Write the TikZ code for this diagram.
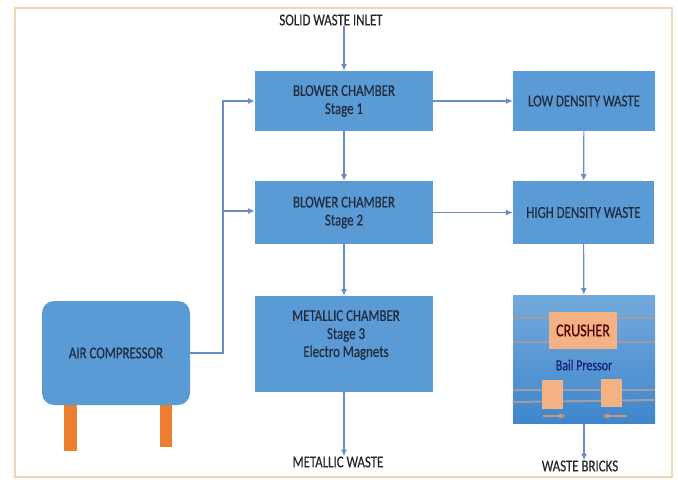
\documentclass[tikz,border=0pt]{standalone}
\usepackage{fontspec}
\setmainfont[FakeStretch=0.78,FakeBold=0.25]{Carlito}
\usetikzlibrary{arrows.meta, positioning, calc}
\definecolor{BoxBlue}{HTML}{5B9BD5}
\definecolor{DeepBlue}{HTML}{3F86CC}
\definecolor{LineBlue}{HTML}{6A8CC4}
\definecolor{FrameTan}{HTML}{F3D5B5}
\definecolor{LegOrange}{HTML}{ED7D31}
\definecolor{Salmon}{HTML}{F4B183}
\definecolor{RailGray}{HTML}{A09CA6}
\definecolor{TextDark}{HTML}{1F2A3C}
\tikzset{
    chamber/.style={fill=BoxBlue, inner sep=0pt, align=center, text=TextDark, font=\fontsize{12.4}{13.5}\selectfont},
    plain/.style={inner sep=0pt, text=black!85, font=\fontsize{12.4}{13.5}\selectfont},
    flow/.style={-{Latex[length=5pt,width=4.5pt]}, LineBlue, line width=0.9pt},
    pad/.style={fill=Salmon, inner sep=0pt},
    rail/.style={RailGray, line width=1.5pt},
    nudge/.style={-{Latex[length=5pt,width=5pt]}, Salmon!85!black, line width=1.1pt}
}
\begin{document}
\begin{tikzpicture}[x=0.75pt, y=-0.75pt]
    \useasboundingbox (0,0) rectangle (678,479);
    \fill[white] (0,0) rectangle (678,479);
    \draw[FrameTan, line width=1.3pt] (15,8) rectangle (672,477);

    % chambers, left column
    \node (stage1) [chamber, minimum width=133.5pt, minimum height=45pt] at (344,101) {BLOWER CHAMBER\\Stage 1};
    \node (stage2) [chamber, minimum width=133.5pt, minimum height=47pt] at (344,212.5) {BLOWER CHAMBER\\Stage 2};
    \node (stage3) [chamber, minimum width=133.5pt, minimum height=72pt] at (344,344) {};
    \node (stage3txt) [inner sep=0pt, align=center, text=TextDark, font=\fontsize{12.4}{13.5}\selectfont] at (346,335) {METALLIC CHAMBER\\Stage 3\\Electro Magnets};

    % right column
    \node (low) [chamber, minimum width=106.5pt, minimum height=45pt] at (584,101) {LOW DENSITY WASTE};
    \node (high) [chamber, minimum width=106pt, minimum height=47pt] at (583.5,212.5) {HIGH DENSITY WASTE};
    \node (bail) [top color=BoxBlue!85!white, bottom color=DeepBlue, inner sep=0pt, minimum width=106.5pt, minimum height=96pt] at (584,359) {};

    % bail pressor details
    \draw[rail] (bail.west |- 0,318) -- (bail.east |- 0,318);
    \draw[rail] (bail.west |- 0,342) -- (bail.east |- 0,342);
    \draw[rail] (bail.west |- 0,390) -- (bail.east |- 0,390);
    \draw[rail] (bail.west |- 0,402) -- (bail.east |- 0,400);
    \node (crusher) [pad, minimum width=51pt, minimum height=28pt, text=black!70!red, font=\fontsize{13.5}{14}\selectfont] at (583,330.5) {CRUSHER};
    \node (bailtxt) [inner sep=0pt, text=TextDark!70!blue, font=\fontsize{11.5}{13}\selectfont] at (584,365) {Bail Pressor};
    \node (padl) [pad, minimum width=15.5pt, minimum height=22pt] at (552.5,394.5) {};
    \node (padr) [pad, minimum width=15.5pt, minimum height=21pt] at (611.5,393) {};
    \coordinate (nudgel) at (543,416);
    \coordinate (nudger) at (627,416);
    \draw[nudge] (nudgel) -- (566,416);
    \draw[nudge] (nudger) -- (602,416);

    % compressor
    \node (legl) [fill=LegOrange, inner sep=0pt, minimum width=9.5pt, minimum height=36pt] at (70.5,427) {};
    \node (legr) [fill=LegOrange, inner sep=0pt, minimum width=9pt, minimum height=33pt] at (166,425) {};
    \node (comp) [chamber, rounded corners=9pt, minimum width=111pt, minimum height=78pt] at (116,353) {AIR COMPRESSOR};

    % end labels
    \node (inlet) [plain] at (331,20) {SOLID WASTE INLET};
    \node (metal) [plain] at (338,462) {METALLIC WASTE};
    \node (bricks) [plain] at (580,466) {WASTE BRICKS};

    % connectors
    \coordinate (junction) at (223,211);
    \draw[flow] (inlet.south -| stage1.north) -- (stage1.north);
    \draw[flow] (comp.east) -| (junction) |- (stage1.west);
    \draw[flow] (junction) -- (junction -| stage2.west);
    \draw[flow] (stage1) -- (low);
    \draw[flow] (stage2) -- (high);
    \draw[flow] (stage1) -- (stage2);
    \draw[flow] (stage2) -- (stage3);
    \draw[flow] (low) -- (high);
    \draw[flow] (high) -- (bail);
    \draw[flow] (stage3.south) -- (stage3.south |- metal.north);
    \draw[flow] (bail.south) -- (bail.south |- bricks.north);
\end{tikzpicture}
\end{document}
